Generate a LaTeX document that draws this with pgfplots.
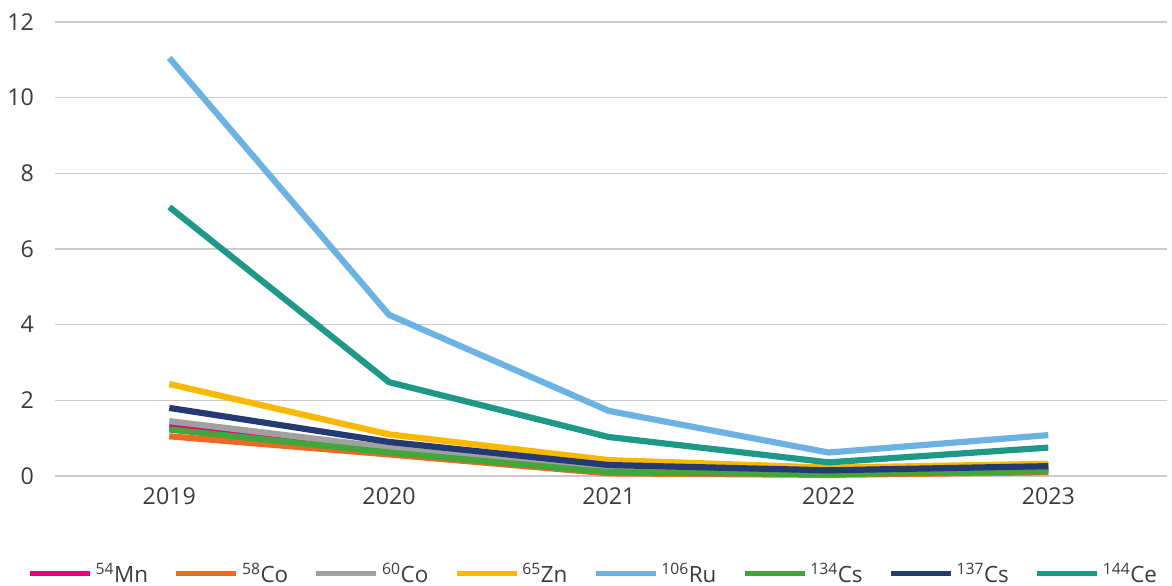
\documentclass[border=0pt]{standalone}
\usepackage{pgfplots}
\pgfplotsset{compat=1.18}
\usepackage{fontspec}
\setmainfont{Open Sans}
\definecolor{cMn}{HTML}{E6007E}
\definecolor{cCoA}{HTML}{EE6A24}
\definecolor{cCoB}{HTML}{A0A0A0}
\definecolor{cZn}{HTML}{FBB800}
\definecolor{cRu}{HTML}{6CB2E2}
\definecolor{cCsA}{HTML}{43A63B}
\definecolor{cCsB}{HTML}{243A73}
\definecolor{cCe}{HTML}{1E9987}
\definecolor{txt}{HTML}{3C3C3C}
\definecolor{gridc}{HTML}{CACACA}
\begin{document}
\begin{tikzpicture}[x=1bp,y=1bp]
\path[use as bounding box] (0,0) rectangle (1172,586);
\begin{axis}[
  at={(55bp,110bp)}, anchor=south west,
  width=1112bp, height=454bp, scale only axis,
  xmin=2018.48, xmax=2023.54,
  ymin=0, ymax=12,
  xtick={2019,2020,2021,2022,2023},
  xticklabels={2019,2020,2021,2022,2023},
  ytick={0,2,4,6,8,10,12},
  axis line style={draw=none},
  major tick length=0pt,
  ymajorgrids,
  major grid style={color=gridc, line width=1.6bp},
  tick label style={font=\fontsize{23.3}{25}\selectfont, text=txt, inner sep=0pt},
  yticklabel style={anchor=east},
  xticklabel style={anchor=north},
  yticklabel shift=21bp,
  xticklabel shift=11bp,
  /pgf/number format/assume math mode=true,
  clip=false,
  every axis plot/.append style={line width=6.2bp, line join=round},
  legend columns=8,
  legend style={draw=none, fill=none, at={(-0.0252,-0.215)}, anchor=west,
    font=\fontsize{22.5}{24}\selectfont, text=txt,
    /tikz/every odd column/.append style={column sep=3bp},
    /tikz/every even column/.append style={column sep=25.5bp},
    inner sep=0pt, nodes={inner sep=0pt}},
  legend image code/.code={\draw[#1, line width=5.5bp] (0bp,0bp) -- (60bp,0bp);},
]
\addplot[cMn] coordinates {(2019,1.32) (2020,0.65) (2021,0.14) (2022,0.08) (2023,0.18)};
\addlegendentry{\textsuperscript{54}Mn}
\addplot[cCoA] coordinates {(2019,1.05) (2020,0.57) (2021,0.07) (2022,0.03) (2023,0.1)};
\addlegendentry{\textsuperscript{58}Co}
\addplot[cCoB] coordinates {(2019,1.45) (2020,0.75) (2021,0.17) (2022,0.1) (2023,0.16)};
\addlegendentry{\textsuperscript{60}Co}
\addplot[cZn] coordinates {(2019,2.43) (2020,1.1) (2021,0.42) (2022,0.22) (2023,0.32)};
\addlegendentry{\textsuperscript{65}Zn}
\addplot[cRu] coordinates {(2019,11.05) (2020,4.26) (2021,1.72) (2022,0.62) (2023,1.08)};
\addlegendentry{\textsuperscript{106}Ru}
\addplot[cCsA] coordinates {(2019,1.23) (2020,0.62) (2021,0.1) (2022,0.05) (2023,0.13)};
\addlegendentry{\textsuperscript{134}Cs}
\addplot[cCsB] coordinates {(2019,1.8) (2020,0.9) (2021,0.29) (2022,0.15) (2023,0.26)};
\addlegendentry{\textsuperscript{137}Cs}
\addplot[cCe] coordinates {(2019,7.11) (2020,2.48) (2021,1.03) (2022,0.36) (2023,0.75)};
\addlegendentry{\textsuperscript{144}Ce}
\end{axis}
\end{tikzpicture}
\end{document}
